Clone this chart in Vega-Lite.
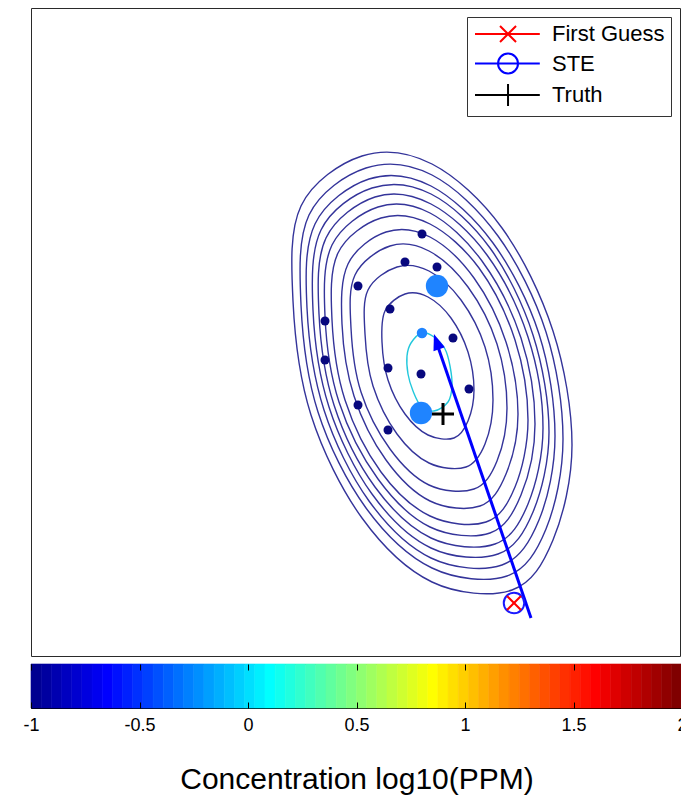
{
  "$schema": "https://vega.github.io/schema/vega-lite/v6.json",
  "padding": {"left": 22, "top": 7, "right": 0, "bottom": 0},
  "spacing": 6,
  "background": "white",
  "config": {"view": {"stroke": "#262626", "strokeWidth": 1}, "font": "Liberation Sans"},
  "datasets": {
    "contours": [
      {"c":1,"i":0,"x":540,"y":211},{"c":1,"i":1,"x":521,"y":325},{"c":1,"i":2,"x":470,"y":428},{"c":1,"i":3,"x":400,"y":492},{"c":1,"i":4,"x":330,"y":500},{"c":1,"i":5,"x":269,"y":450},{"c":1,"i":6,"x":261,"y":355},{"c":1,"i":7,"x":279,"y":241},{"c":1,"i":8,"x":330,"y":138},{"c":1,"i":9,"x":400,"y":74},{"c":1,"i":10,"x":480,"y":66},{"c":1,"i":11,"x":521,"y":116},
      {"c":2,"i":0,"x":531,"y":217},{"c":2,"i":1,"x":514,"y":324},{"c":2,"i":2,"x":466,"y":420},{"c":2,"i":3,"x":400,"y":481},{"c":2,"i":4,"x":334,"y":488},{"c":2,"i":5,"x":277,"y":441},{"c":2,"i":6,"x":269,"y":351},{"c":2,"i":7,"x":286,"y":244},{"c":2,"i":8,"x":334,"y":148},{"c":2,"i":9,"x":400,"y":88},{"c":2,"i":10,"x":475,"y":80},{"c":2,"i":11,"x":514,"y":127},
      {"c":3,"i":0,"x":523,"y":220},{"c":3,"i":1,"x":507,"y":322},{"c":3,"i":2,"x":461,"y":413},{"c":3,"i":3,"x":399,"y":470},{"c":3,"i":4,"x":337,"y":477},{"c":3,"i":5,"x":283,"y":432},{"c":3,"i":6,"x":275,"y":348},{"c":3,"i":7,"x":292,"y":246},{"c":3,"i":8,"x":337,"y":155},{"c":3,"i":9,"x":399,"y":98},{"c":3,"i":10,"x":470,"y":91},{"c":3,"i":11,"x":507,"y":136},
      {"c":4,"i":0,"x":517,"y":224},{"c":4,"i":1,"x":501,"y":321},{"c":4,"i":2,"x":458,"y":408},{"c":4,"i":3,"x":399,"y":462},{"c":4,"i":4,"x":340,"y":468},{"c":4,"i":5,"x":289,"y":426},{"c":4,"i":6,"x":281,"y":346},{"c":4,"i":7,"x":297,"y":249},{"c":4,"i":8,"x":340,"y":162},{"c":4,"i":9,"x":399,"y":108},{"c":4,"i":10,"x":466,"y":102},{"c":4,"i":11,"x":501,"y":144},
      {"c":5,"i":0,"x":511,"y":228},{"c":5,"i":1,"x":496,"y":319},{"c":5,"i":2,"x":455,"y":401},{"c":5,"i":3,"x":399,"y":452},{"c":5,"i":4,"x":343,"y":459},{"c":5,"i":5,"x":294,"y":418},{"c":5,"i":6,"x":287,"y":342},{"c":5,"i":7,"x":302,"y":251},{"c":5,"i":8,"x":343,"y":169},{"c":5,"i":9,"x":399,"y":118},{"c":5,"i":10,"x":463,"y":112},{"c":5,"i":11,"x":496,"y":152},
      {"c":6,"i":0,"x":503,"y":232},{"c":6,"i":1,"x":489,"y":318},{"c":6,"i":2,"x":450,"y":395},{"c":6,"i":3,"x":398,"y":443},{"c":6,"i":4,"x":346,"y":449},{"c":6,"i":5,"x":300,"y":411},{"c":6,"i":6,"x":293,"y":340},{"c":6,"i":7,"x":307,"y":254},{"c":6,"i":8,"x":346,"y":177},{"c":6,"i":9,"x":398,"y":129},{"c":6,"i":10,"x":458,"y":123},{"c":6,"i":11,"x":489,"y":161},
      {"c":7,"i":0,"x":496,"y":236},{"c":7,"i":1,"x":483,"y":316},{"c":7,"i":2,"x":447,"y":388},{"c":7,"i":3,"x":398,"y":432},{"c":7,"i":4,"x":349,"y":438},{"c":7,"i":5,"x":306,"y":403},{"c":7,"i":6,"x":300,"y":336},{"c":7,"i":7,"x":313,"y":256},{"c":7,"i":8,"x":349,"y":184},{"c":7,"i":9,"x":398,"y":140},{"c":7,"i":10,"x":454,"y":134},{"c":7,"i":11,"x":483,"y":169},
      {"c":8,"i":0,"x":486,"y":242},{"c":8,"i":1,"x":474,"y":314},{"c":8,"i":2,"x":442,"y":378},{"c":8,"i":3,"x":398,"y":419},{"c":8,"i":4,"x":354,"y":424},{"c":8,"i":5,"x":316,"y":392},{"c":8,"i":6,"x":310,"y":332},{"c":8,"i":7,"x":322,"y":260},{"c":8,"i":8,"x":354,"y":196},{"c":8,"i":9,"x":398,"y":155},{"c":8,"i":10,"x":448,"y":150},{"c":8,"i":11,"x":474,"y":182},
      {"c":9,"i":0,"x":475,"y":248},{"c":9,"i":1,"x":465,"y":312},{"c":9,"i":2,"x":436,"y":369},{"c":9,"i":3,"x":397,"y":405},{"c":9,"i":4,"x":358,"y":410},{"c":9,"i":5,"x":323,"y":381},{"c":9,"i":6,"x":319,"y":328},{"c":9,"i":7,"x":329,"y":264},{"c":9,"i":8,"x":358,"y":207},{"c":9,"i":9,"x":397,"y":171},{"c":9,"i":10,"x":442,"y":167},{"c":9,"i":11,"x":465,"y":195},
      {"c":10,"i":0,"x":461,"y":256},{"c":10,"i":1,"x":453,"y":309},{"c":10,"i":2,"x":429,"y":356},{"c":10,"i":3,"x":397,"y":385},{"c":10,"i":4,"x":365,"y":389},{"c":10,"i":5,"x":336,"y":366},{"c":10,"i":6,"x":333,"y":322},{"c":10,"i":7,"x":341,"y":270},{"c":10,"i":8,"x":365,"y":222},{"c":10,"i":9,"x":397,"y":193},{"c":10,"i":10,"x":434,"y":189},{"c":10,"i":11,"x":453,"y":212},
      {"c":11,"i":0,"x":442,"y":266},{"c":11,"i":1,"x":436,"y":304},{"c":11,"i":2,"x":419,"y":338},{"c":11,"i":3,"x":396,"y":359},{"c":11,"i":4,"x":373,"y":362},{"c":11,"i":5,"x":353,"y":345},{"c":11,"i":6,"x":350,"y":314},{"c":11,"i":7,"x":356,"y":276},{"c":11,"i":8,"x":373,"y":242},{"c":11,"i":9,"x":396,"y":221},{"c":11,"i":10,"x":422,"y":218},{"c":11,"i":11,"x":436,"y":235}
    ],
    "cyan": [
      {"i":0,"x":390,"y":323},{"i":1,"x":379,"y":313},{"i":2,"x":375,"y":300},{"i":3,"x":376,"y":282},{"i":4,"x":381,"y":265},{"i":5,"x":389,"y":250},{"i":6,"x":402,"y":245},{"i":7,"x":416,"y":254},{"i":8,"x":420,"y":270},{"i":9,"x":418,"y":290},{"i":10,"x":413,"y":307},{"i":11,"x":402,"y":319}
    ],
    "dots": [
      {"x":390,"y":422},{"x":373,"y":394},{"x":405,"y":389},{"x":326,"y":370},{"x":358,"y":347},{"x":293,"y":335},{"x":421,"y":318},{"x":293,"y":296},{"x":356,"y":288},{"x":389,"y":282},{"x":437,"y":267},{"x":326,"y":251},{"x":356,"y":226}
    ],
    "bigdots": [{"x":405,"y":370},{"x":389,"y":243}],
    "smalldot": [{"x":390,"y":323}],
    "arrow": [{"x":499,"y":38,"x2":404,"y2":315}],
    "arrowhead": [{"x":405.2,"y":312.5}],
    "markers": [
      {"series":"First Guess","x":482,"y":53},
      {"series":"STE","x":482,"y":53},
      {"series":"Truth","x":411,"y":242}
    ],
    "jet": [
      {"i":0,"lo":-1,"hi":-0.953125},{"i":1,"lo":-0.953125,"hi":-0.90625},{"i":2,"lo":-0.90625,"hi":-0.859375},{"i":3,"lo":-0.859375,"hi":-0.8125},
      {"i":4,"lo":-0.8125,"hi":-0.765625},{"i":5,"lo":-0.765625,"hi":-0.71875},{"i":6,"lo":-0.71875,"hi":-0.671875},{"i":7,"lo":-0.671875,"hi":-0.625},
      {"i":8,"lo":-0.625,"hi":-0.578125},{"i":9,"lo":-0.578125,"hi":-0.53125},{"i":10,"lo":-0.53125,"hi":-0.484375},{"i":11,"lo":-0.484375,"hi":-0.4375},
      {"i":12,"lo":-0.4375,"hi":-0.390625},{"i":13,"lo":-0.390625,"hi":-0.34375},{"i":14,"lo":-0.34375,"hi":-0.296875},{"i":15,"lo":-0.296875,"hi":-0.25},
      {"i":16,"lo":-0.25,"hi":-0.203125},{"i":17,"lo":-0.203125,"hi":-0.15625},{"i":18,"lo":-0.15625,"hi":-0.109375},{"i":19,"lo":-0.109375,"hi":-0.0625},
      {"i":20,"lo":-0.0625,"hi":-0.015625},{"i":21,"lo":-0.015625,"hi":0.03125},{"i":22,"lo":0.03125,"hi":0.078125},{"i":23,"lo":0.078125,"hi":0.125},
      {"i":24,"lo":0.125,"hi":0.171875},{"i":25,"lo":0.171875,"hi":0.21875},{"i":26,"lo":0.21875,"hi":0.265625},{"i":27,"lo":0.265625,"hi":0.3125},
      {"i":28,"lo":0.3125,"hi":0.359375},{"i":29,"lo":0.359375,"hi":0.40625},{"i":30,"lo":0.40625,"hi":0.453125},{"i":31,"lo":0.453125,"hi":0.5},
      {"i":32,"lo":0.5,"hi":0.546875},{"i":33,"lo":0.546875,"hi":0.59375},{"i":34,"lo":0.59375,"hi":0.640625},{"i":35,"lo":0.640625,"hi":0.6875},
      {"i":36,"lo":0.6875,"hi":0.734375},{"i":37,"lo":0.734375,"hi":0.78125},{"i":38,"lo":0.78125,"hi":0.828125},{"i":39,"lo":0.828125,"hi":0.875},
      {"i":40,"lo":0.875,"hi":0.921875},{"i":41,"lo":0.921875,"hi":0.96875},{"i":42,"lo":0.96875,"hi":1.015625},{"i":43,"lo":1.015625,"hi":1.0625},
      {"i":44,"lo":1.0625,"hi":1.109375},{"i":45,"lo":1.109375,"hi":1.15625},{"i":46,"lo":1.15625,"hi":1.203125},{"i":47,"lo":1.203125,"hi":1.25},
      {"i":48,"lo":1.25,"hi":1.296875},{"i":49,"lo":1.296875,"hi":1.34375},{"i":50,"lo":1.34375,"hi":1.390625},{"i":51,"lo":1.390625,"hi":1.4375},
      {"i":52,"lo":1.4375,"hi":1.484375},{"i":53,"lo":1.484375,"hi":1.53125},{"i":54,"lo":1.53125,"hi":1.578125},{"i":55,"lo":1.578125,"hi":1.625},
      {"i":56,"lo":1.625,"hi":1.671875},{"i":57,"lo":1.671875,"hi":1.71875},{"i":58,"lo":1.71875,"hi":1.765625},{"i":59,"lo":1.765625,"hi":1.8125},
      {"i":60,"lo":1.8125,"hi":1.859375},{"i":61,"lo":1.859375,"hi":1.90625},{"i":62,"lo":1.90625,"hi":1.953125},{"i":63,"lo":1.953125,"hi":2}
    ]
  },
  "vconcat": [
    {
      "width": 649,
      "height": 648,
      "view": {"stroke": "#2a2a2a"},
      "encoding": {
        "x": {"field": "x", "type": "quantitative", "scale": {"domain": [-1, 648], "nice": false, "zero": false}, "axis": null},
        "y": {"field": "y", "type": "quantitative", "scale": {"domain": [0, 648], "nice": false, "zero": false}, "axis": null}
      },
      "layer": [
        {
          "data": {"name": "contours"},
          "mark": {"type": "line", "interpolate": "cardinal-closed", "stroke": "#34349a", "strokeWidth": 1.4},
          "encoding": {"detail": {"field": "c", "type": "nominal"}, "order": {"field": "i", "type": "quantitative"}}
        },
        {
          "data": {"name": "cyan"},
          "mark": {"type": "line", "interpolate": "cardinal-closed", "stroke": "#22c8dc", "strokeWidth": 1.4},
          "encoding": {"order": {"field": "i", "type": "quantitative"}}
        },
        {
          "data": {"name": "dots"},
          "mark": {"type": "point", "shape": "circle", "filled": true, "size": 81, "color": "#08087e", "opacity": 1}
        },
        {
          "data": {"name": "bigdots"},
          "mark": {"type": "point", "shape": "circle", "filled": true, "size": 500, "color": "#1f84ff", "opacity": 1}
        },
        {
          "data": {"name": "smalldot"},
          "mark": {"type": "point", "shape": "circle", "filled": true, "size": 110, "color": "#1f84ff", "opacity": 1}
        },
        {
          "data": {"name": "arrow"},
          "mark": {"type": "rule", "color": "#0000ff", "strokeWidth": 3},
          "encoding": {"x2": {"field": "x2"}, "y2": {"field": "y2"}}
        },
        {
          "data": {"name": "arrowhead"},
          "mark": {"type": "point", "shape": "M0,-1L0.6,0.6L-0.6,0.6Z", "filled": true, "size": 400, "angle": 341, "color": "#0000ff", "opacity": 1}
        },
        {
          "data": {"name": "markers"},
          "transform": [{"filter": "datum.series === 'STE'"}],
          "mark": {"type": "point", "shape": "circle", "filled": false, "size": 420, "color": "#1a1aff", "strokeWidth": 2, "opacity": 1}
        },
        {
          "data": {"name": "markers"},
          "transform": [{"filter": "datum.series === 'First Guess'"}],
          "mark": {"type": "point", "shape": "M-1,-1L1,1M-1,1L1,-1", "filled": false, "size": 196, "color": "#ff0000", "strokeWidth": 2, "opacity": 1}
        },
        {
          "data": {"name": "markers"},
          "transform": [{"filter": "datum.series === 'Truth'"}],
          "mark": {"type": "point", "shape": "M-1,0H1M0,-1V1", "filled": false, "size": 484, "color": "#000000", "strokeWidth": 3, "opacity": 1}
        },
        {
          "data": {"name": "markers"},
          "mark": {"type": "point", "filled": false, "opacity": 0},
          "encoding": {
            "color": {
              "field": "series", "type": "nominal",
              "scale": {"domain": ["First Guess", "STE", "Truth"], "range": ["#ff0000", "#0000ff", "#000000"]},
              "legend": {"title": null, "orient": "top-right", "offset": 9, "padding": 6, "strokeColor": "#333333", "fillColor": "#ffffff", "labelFont": "Liberation Sans", "labelFontSize": 22, "labelColor": "#000000", "labelOffset": 57, "rowPadding": 2.5, "symbolSize": 324, "symbolStrokeWidth": 2, "symbolOpacity": 1, "labelLimit": 300}
            },
            "shape": {
              "field": "series", "type": "nominal",
              "scale": {"domain": ["First Guess", "STE", "Truth"], "range": ["M-1,0H6.2M1.78,-0.89L3.56,0.89M1.78,0.89L3.56,-0.89", "M-1,0H6.2M1.56,0A1.11,1.11 0 1,0 3.78,0A1.11,1.11 0 1,0 1.56,0", "M-1,0H6.2M2.67,-1.22V1.22"]},
              "legend": {"title": null, "orient": "top-right", "offset": 9, "padding": 6, "strokeColor": "#333333", "fillColor": "#ffffff", "labelFont": "Liberation Sans", "labelFontSize": 22, "labelColor": "#000000", "labelOffset": 57, "rowPadding": 2.5, "symbolSize": 324, "symbolStrokeWidth": 2, "symbolOpacity": 1, "labelLimit": 300}
            }
          }
        }
      ]
    },
    {
      "width": 651,
      "height": 44,
      "view": {"stroke": "#000000"},
      "data": {"name": "jet"},
      "mark": {"type": "rect", "strokeWidth": 0.6},
      "encoding": {
        "x": {
          "field": "lo", "type": "quantitative",
          "scale": {"domain": [-1, 2], "nice": false, "zero": false},
          "axis": {"values": [-1, -0.5, 0, 0.5, 1, 1.5, 2], "labelExpr": "datum.value + ''", "labelFlush": false, "labelOverlap": false, "grid": true, "gridDash": [6, 32], "gridColor": "#000000", "gridOpacity": 1, "gridWidth": 1, "ticks": false, "domain": false, "labelFont": "Liberation Sans", "labelFontSize": 18, "labelColor": "#000000", "labelPadding": 8, "title": "Concentration log10(PPM)", "titleFont": "Liberation Sans", "titleFontSize": 30, "titleFontWeight": "normal", "titleColor": "#000000", "titlePadding": 30, "zindex": 1}
        },
        "x2": {"field": "hi"},
        "fill": {"field": "i", "type": "quantitative", "scale": {"type": "linear", "domain": [0, 7, 23, 39, 55, 63], "range": ["#000090", "#0000ff", "#00ffff", "#ffff00", "#ff0000", "#800000"], "interpolate": "rgb"}, "legend": null},
        "stroke": {"field": "i", "type": "quantitative", "scale": {"type": "linear", "domain": [0, 7, 23, 39, 55, 63], "range": ["#000090", "#0000ff", "#00ffff", "#ffff00", "#ff0000", "#800000"], "interpolate": "rgb"}, "legend": null}
      }
    }
  ],
  "resolve": {
    "scale": {"color": "independent", "fill": "independent", "stroke": "independent", "shape": "independent"},
    "legend": {"color": "independent", "shape": "independent", "fill": "independent", "stroke": "independent"}
  }
}
